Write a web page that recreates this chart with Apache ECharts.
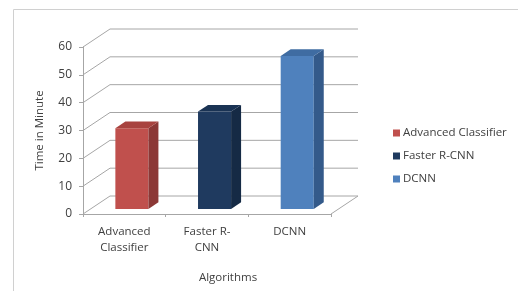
<!DOCTYPE html>
<html>
<head>
<meta charset="utf-8">
<script src="https://cdn.jsdelivr.net/npm/echarts@6/dist/echarts.min.js"></script>
<style>
  html, body { margin: 0; padding: 0; background: #fff; }
  #chart { width: 518px; height: 291px; }
</style>
</head>
<body>
<div id="chart"></div>
<script>
// categories / values
const categories = ["Advanced\nClassifier", "Faster R-\nCNN", "DCNN"];
const seriesNames = ["Advanced Classifier", "Faster R-CNN", "DCNN"];
const values = [29, 35, 55];
const yTicks = [0, 10, 20, 30, 40, 50, 60];

// face colours: front, side, top
const faceColors = [
  ["#c0504d", "#8c3836", "#a8433f"],
  ["#1f3a5f", "#152a45", "#1a3354"],
  ["#4f81bd", "#345a8a", "#3f6ca2"]
];

// 3d depth of the plot box
const DX = 27, DY = -18;
const BAR_OFF = 0.28, BAR_DEPTH = 0.37;

const chart = echarts.init(document.getElementById("chart"));

// walls + gridlines
function renderFrame(params, api) {
  const cs = params.coordSys;
  const y = api.coord([0, api.value(1)])[1];
  const x0 = cs.x, x1 = cs.x + cs.width;
  const children = [{
    type: "polyline",
    shape: { points: [[x0, y], [x0 + DX, y + DY], [x1 + DX, y + DY]] },
    style: { stroke: "#a6a6a6", lineWidth: 1, fill: null }
  }];
  if (api.value(1) === 0) {
    children.push({
      type: "line",
      shape: { x1: x1, y1: y, x2: x1 + DX, y2: y + DY },
      style: { stroke: "#a6a6a6", lineWidth: 1 }
    });
  }
  return { type: "group", children: children };
}

function renderBar(params, api) {
  const idx = api.value(0);
  const base = api.coord([idx, 0]);
  const top = api.coord([idx, api.value(1)]);
  const bw = api.size([1, 0])[0] * 0.4;
  const ox = DX * BAR_OFF, oy = DY * BAR_OFF;
  const dx = DX * BAR_DEPTH, dy = DY * BAR_DEPTH;
  const x0 = base[0] - bw / 2 + ox, x1 = x0 + bw;
  const yb = base[1] + oy, yt = top[1] + oy;
  const c = faceColors[idx];
  return {
    type: "group",
    children: [
      { type: "rect", shape: { x: x0, y: yt, width: bw, height: yb - yt }, style: { fill: c[0] } },
      { type: "polygon", shape: { points: [[x1, yt], [x1 + dx, yt + dy], [x1 + dx, yb + dy], [x1, yb]] }, style: { fill: c[1] } },
      { type: "polygon", shape: { points: [[x0, yt], [x0 + dx, yt + dy], [x1 + dx, yt + dy], [x1, yt]] }, style: { fill: c[2] } }
    ]
  };
}

const barSeries = seriesNames.map((name, i) => ({
  name: name,
  type: "custom",
  renderItem: renderBar,
  data: [[i, values[i]]],
  itemStyle: { color: faceColors[i][0] },
  z: 3
}));

const option = {
  animation: false,
  textStyle: { fontFamily: "Open Sans" },
  graphic: [{
    type: "rect",
    shape: { x: 13.5, y: 9.5, width: 540, height: 320 },
    style: { fill: null, stroke: "#d0d0d0", lineWidth: 1 },
    silent: true
  }],
  grid: { left: 83, top: 47, width: 248, height: 167 },
  legend: {
    orient: "vertical",
    left: 388,
    top: 121,
    itemWidth: 7,
    itemHeight: 7,
    itemGap: 9,
    icon: "rect",
    data: seriesNames,
    textStyle: { color: "#404040", fontSize: 11.5, lineHeight: 14, padding: [0, 0, 0, -2] }
  },
  xAxis: {
    type: "category",
    data: categories,
    name: "Algorithms",
    nameLocation: "middle",
    nameGap: 58,
    nameTextStyle: { color: "#404040", fontSize: 11.5, padding: [0, 0, 0, 42] },
    axisLine: { lineStyle: { color: "#a6a6a6" } },
    axisTick: { show: true, length: 3, lineStyle: { color: "#a6a6a6" } },
    axisLabel: { color: "#404040", fontSize: 11.5, lineHeight: 16, margin: 10 },
    splitLine: { show: false }
  },
  yAxis: {
    type: "value",
    min: 0,
    max: 60,
    interval: 10,
    name: "Time in Minute",
    nameLocation: "middle",
    nameGap: 37,
    nameTextStyle: { color: "#404040", fontSize: 11.5 },
    axisLine: { show: true, lineStyle: { color: "#a6a6a6" } },
    axisTick: { show: true, length: 4, lineStyle: { color: "#a6a6a6" } },
    axisLabel: { color: "#404040", fontSize: 12, margin: 11 },
    splitLine: { show: false }
  },
  series: [{
    name: "frame",
    type: "custom",
    renderItem: renderFrame,
    data: yTicks.map(t => [0, t]),
    silent: true,
    z: 1
  }].concat(barSeries)
};

chart.setOption(option);
</script>
</body>
</html>
